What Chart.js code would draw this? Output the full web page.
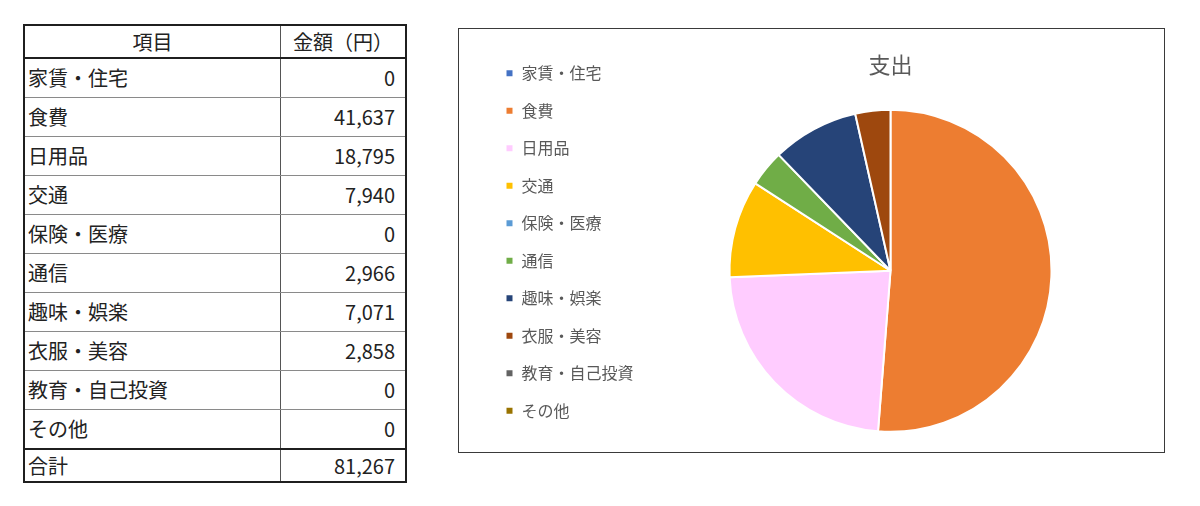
<!DOCTYPE html>
<html lang="ja">
<head>
<meta charset="utf-8">
<script src="https://cdn.jsdelivr.net/npm/chart.js@4/dist/chart.umd.min.js"></script>
<style>
  body {
    margin: 0;
    width: 1200px;
    height: 506px;
    background: #fff;
    font-family: 'Noto Sans CJK JP', sans-serif;
    position: relative;
    overflow: hidden;
  }
  #budget {
    position: absolute;
    left: 23px;
    top: 24px;
    width: 384px;
    border-collapse: collapse;
    border: 2px solid #1f1f1f;
    font-size: 20px;
    color: #222;
  }
  #budget td, #budget th {
    padding: 0;
    border-top: 1px solid #8a8a8a;
    border-bottom: 1px solid #8a8a8a;
    line-height: 1;
  }
  #budget th {
    font-weight: normal;
    height: 31px;
    text-align: center;
    border-bottom: 2px solid #1f1f1f;
  }
  #budget td { height: 38px; }
  #budget .name { padding-left: 3px; width: 252px; border-right: 1px solid #555; }
  #budget th.name { padding-left: 0; }
  #budget .num { text-align: right; padding-right: 10px; }
  #budget tr.total td { height: 31px; border-top: 2px solid #1f1f1f; }
  #chartBox {
    position: absolute;
    left: 458px;
    top: 28px;
    width: 705px;
    height: 423px;
    border: 1px solid #3a3a3a;
  }
</style>
</head>
<body>
<table id="budget">
  <thead>
    <tr><th class="name">項目</th><th>金額（円）</th></tr>
  </thead>
  <tbody id="rows"></tbody>
</table>
<div id="chartBox"><canvas id="myChart" width="705" height="423"></canvas></div>
<script>
const categories = ['家賃・住宅', '食費', '日用品', '交通', '保険・医療', '通信', '趣味・娯楽', '衣服・美容', '教育・自己投資', 'その他'];
const amounts = [0, 41637, 18795, 7940, 0, 2966, 7071, 2858, 0, 0];
const sliceColors = ['#4472C4', '#ED7D31', '#FFCCFF', '#FFC000', '#5B9BD5', '#70AD47', '#264478', '#9E480E', '#636363', '#997300'];
const chartTitle = '支出';
const totalLabel = '合計';

const rowsBody = document.querySelector('#rows');
const ctx = document.getElementById('myChart');

fillTable();
loadChart();

//tabla de gastos
function fillTable() {
  categories.forEach((cat, i) => {
    const tr = document.createElement('tr');
    const tdName = document.createElement('td');
    tdName.className = 'name';
    tdName.textContent = cat;
    const tdNum = document.createElement('td');
    tdNum.className = 'num';
    tdNum.textContent = amounts[i].toLocaleString('ja-JP');
    tr.appendChild(tdName);
    tr.appendChild(tdNum);
    rowsBody.appendChild(tr);
  });
  const total = amounts.reduce((a, b) => a + b, 0);
  const trTotal = document.createElement('tr');
  trTotal.className = 'total';
  const tdName = document.createElement('td');
  tdName.className = 'name';
  tdName.textContent = totalLabel;
  const tdNum = document.createElement('td');
  tdNum.className = 'num';
  tdNum.textContent = total.toLocaleString('ja-JP');
  trTotal.appendChild(tdName);
  trTotal.appendChild(tdNum);
  rowsBody.appendChild(trTotal);
}

function loadChart() {
  // eslint-disable-next-line no-undef
  const myChart = new Chart(ctx, {
    type: 'pie',
    data: {
      labels: categories,
      datasets: [
        {
          label: chartTitle,
          data: amounts,
          backgroundColor: sliceColors,
          borderColor: '#ffffff',
          borderWidth: 2,
          hoverOffset: 0,
          offset: 0,
          radius: 161,
        },
      ],
    },
    options: {
      responsive: false,
      animation: false,
      layout: {
        padding: { top: 7, bottom: 4, left: 25, right: 17 },
      },
      plugins: {
        title: {
          display: true,
          text: chartTitle,
          fullSize: false,
          color: '#595959',
          font: { family: "'Noto Sans CJK JP', sans-serif", size: 22, weight: 'normal' },
          padding: { top: 15.7, bottom: 15.4 },
        },
        legend: {
          position: 'left',
          maxWidth: 150,
          labels: {
            boxWidth: 8,
            boxHeight: 8,
            padding: 21.5,
            color: '#595959',
            font: { family: "'Noto Sans CJK JP', sans-serif", size: 16 },
          },
        },
        tooltip: { enabled: false },
      },
    },
  });
}
</script>
</body>
</html>
